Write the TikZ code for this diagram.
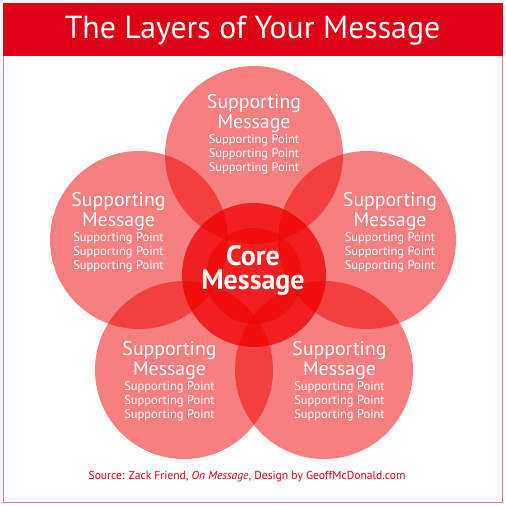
\documentclass[tikz,border=0pt]{standalone}
\usepackage{fontspec}
\setmainfont{PT Sans}
\definecolor{petalred}{RGB}{240,0,0}
\definecolor{titlered}{RGB}{222,0,22}
\definecolor{framered}{RGB}{240,125,125}
\begin{document}
\begin{tikzpicture}[x=1pt,y=-1pt,
  petal/.style={circle, fill=petalred, fill opacity=0.5, text opacity=1, minimum size=178pt, inner sep=0pt},
  corecirc/.style={circle, fill=petalred, fill opacity=0.75, minimum size=144pt, inner sep=0pt},
  innercirc/.style={circle, fill=petalred, fill opacity=0.5, minimum size=96pt, inner sep=0pt},
  ptext/.style={anchor=base, align=center, text=white, inner sep=0pt, font=\fontsize{12.5}{14}\selectfont},
  coretext/.style={anchor=base, align=center, text=white, inner sep=0pt, font=\bfseries\fontsize{28}{24}\selectfont},
]
\useasboundingbox (0,0) rectangle (506,506);
\fill[white] (0,0) rectangle (506,506);
\draw[framered, line width=1pt] (3.5,3.5) rectangle (502.5,502.5);
\fill[titlered] (3,3) rectangle (503,56);
\node[anchor=base, text=white, inner sep=0pt, font=\fontsize{31.8}{32}\selectfont] (title) at (252.5,38) {The Layers of Your Message};

\node[petal] (p1) at (254,155) {};
\node[petal] (p2) at (139,240) {};
\node[petal] (p3) at (367,240) {};
\node[petal] (p4) at (184,370) {};
\node[petal] (p5) at (324,370) {};
\node[corecirc] (core) at (254,275) {};
\node[innercirc] (inner) at (254,276) {};

\newcommand{\petaltext}{{\fontsize{19.8}{19}\selectfont Supporting}\\{\fontsize{19.8}{19}\selectfont Message}\\[1pt]Supporting Point\\Supporting Point\\Supporting Point}
\node[ptext] (t1) at (254,171) {\petaltext};
\node[ptext] (t2) at (118.5,269) {\petaltext};
\node[ptext] (t3) at (390,269) {\petaltext};
\node[ptext] (t4) at (169.5,418) {\petaltext};
\node[ptext] (t5) at (339.5,418) {\petaltext};

\node[coretext] (ct) at (253,289) {Core\\Message};

\node[anchor=base, text=titlered, inner sep=0pt, font=\fontsize{11.6}{13}\selectfont] (src) at (247,479) {Source: Zack Friend, \textit{On Message}, Design by GeoffMcDonald.com};
\end{tikzpicture}
\end{document}
